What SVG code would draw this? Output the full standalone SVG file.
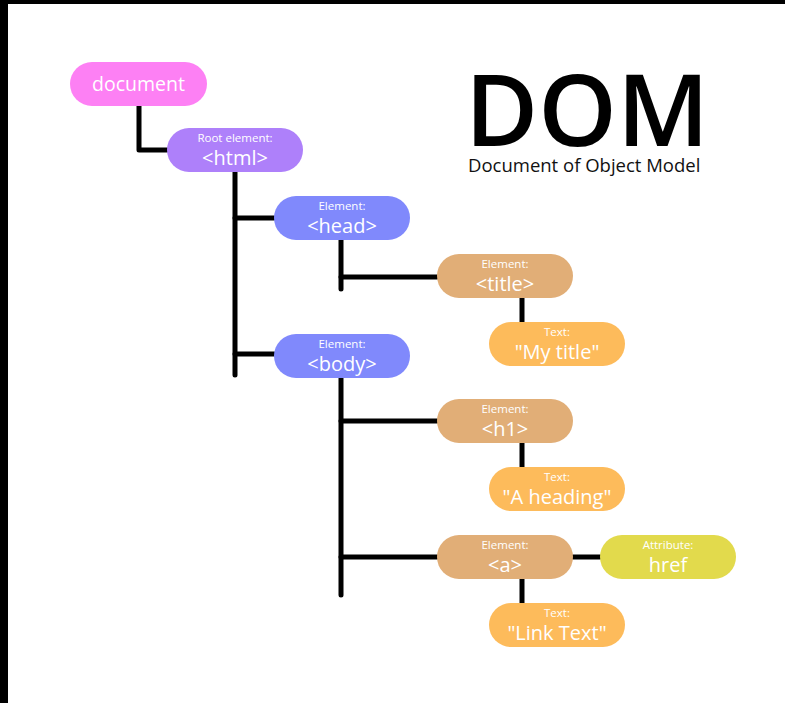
<svg xmlns="http://www.w3.org/2000/svg" width="785" height="703" viewBox="0 0 785 703">
<style>
.bg{fill:#ffffff}
.frame{fill:#000000}
.n{stroke:none}
.doc{fill:#fd80f4}
.root{fill:#ae80fa}
.el{fill:#8089fc}
.tan{fill:#e1ae77}
.txt{fill:#fdbb5b}
.attr{fill:#e2da4c}
.lbl{font-family:"Open Sans","Noto Sans",sans-serif;fill:#ffffff;text-anchor:middle}
.sm{font-size:11.5px}
.big{font-size:20px;font-weight:500}
.wire{fill:none;stroke:#000000;stroke-width:5;stroke-linecap:round;stroke-linejoin:round}
</style>
<rect class="bg" x="0" y="0" width="785" height="703"/>
<rect class="frame" x="0" y="0" width="785" height="4"/>
<rect class="frame" x="0" y="0" width="8" height="703"/>

<g id="title">
<text x="465" y="146" font-family="Open Sans, sans-serif" font-weight="600" font-size="100" fill="#000">DOM</text>
<text x="468" y="172" font-family="Open Sans, sans-serif" font-size="18.5" fill="#111">Document of Object Model</text>
</g>

<g id="connectors">
<path class="wire" d="M139 106 V150 H167"/>
<path class="wire" d="M235 172 V375"/>
<path class="wire" d="M235 218 H274"/>
<path class="wire" d="M235 354 H274"/>
<path class="wire" d="M341 240 V289"/>
<path class="wire" d="M341 277 H437"/>
<path class="wire" d="M522 298 V322"/>
<path class="wire" d="M341 378 V595"/>
<path class="wire" d="M341 421 H437"/>
<path class="wire" d="M522 443 V467"/>
<path class="wire" d="M341 557 H437"/>
<path class="wire" d="M573 557 H600"/>
<path class="wire" d="M522 579 V603"/>
</g>

<g id="node-document">
<rect class="n doc" x="70" y="62" width="137" height="44" rx="22"/>
<text class="lbl" x="138.5" y="91" font-size="19.5" font-weight="500">document</text>
</g>
<g id="node-html">
<rect class="n root" x="167" y="128" width="136" height="44" rx="22"/>
<text class="lbl sm" x="235" y="142">Root element:</text>
<text class="lbl big" x="235" y="165">&lt;html&gt;</text>
</g>
<g id="node-head">
<rect class="n el" x="274" y="196" width="136" height="44" rx="22"/>
<text class="lbl sm" x="342" y="210">Element:</text>
<text class="lbl big" x="342" y="233">&lt;head&gt;</text>
</g>
<g id="node-body">
<rect class="n el" x="274" y="334" width="136" height="44" rx="22"/>
<text class="lbl sm" x="342" y="348">Element:</text>
<text class="lbl big" x="342" y="371">&lt;body&gt;</text>
</g>
<g id="node-title">
<rect class="n tan" x="437" y="254" width="136" height="44" rx="22"/>
<text class="lbl sm" x="505" y="268">Element:</text>
<text class="lbl big" x="505" y="291">&lt;title&gt;</text>
</g>
<g id="node-mytitle">
<rect class="n txt" x="489" y="322" width="136" height="44" rx="22"/>
<text class="lbl sm" x="557" y="336">Text:</text>
<text class="lbl big" x="557" y="359">"My title"</text>
</g>
<g id="node-h1">
<rect class="n tan" x="437" y="399" width="136" height="44" rx="22"/>
<text class="lbl sm" x="505" y="413">Element:</text>
<text class="lbl big" x="505" y="436">&lt;h1&gt;</text>
</g>
<g id="node-heading">
<rect class="n txt" x="489" y="467" width="136" height="44" rx="22"/>
<text class="lbl sm" x="557" y="481">Text:</text>
<text class="lbl big" x="557" y="504">"A heading"</text>
</g>
<g id="node-a">
<rect class="n tan" x="437" y="535" width="136" height="44" rx="22"/>
<text class="lbl sm" x="505" y="549">Element:</text>
<text class="lbl big" x="505" y="572">&lt;a&gt;</text>
</g>
<g id="node-href">
<rect class="n attr" x="600" y="535" width="136" height="44" rx="22"/>
<text class="lbl sm" x="668" y="549">Attribute:</text>
<text class="lbl big" x="668" y="572">href</text>
</g>
<g id="node-linktext">
<rect class="n txt" x="489" y="603" width="136" height="44" rx="22"/>
<text class="lbl sm" x="557" y="617">Text:</text>
<text class="lbl big" x="557" y="640">"Link Text"</text>
</g>
</svg>
